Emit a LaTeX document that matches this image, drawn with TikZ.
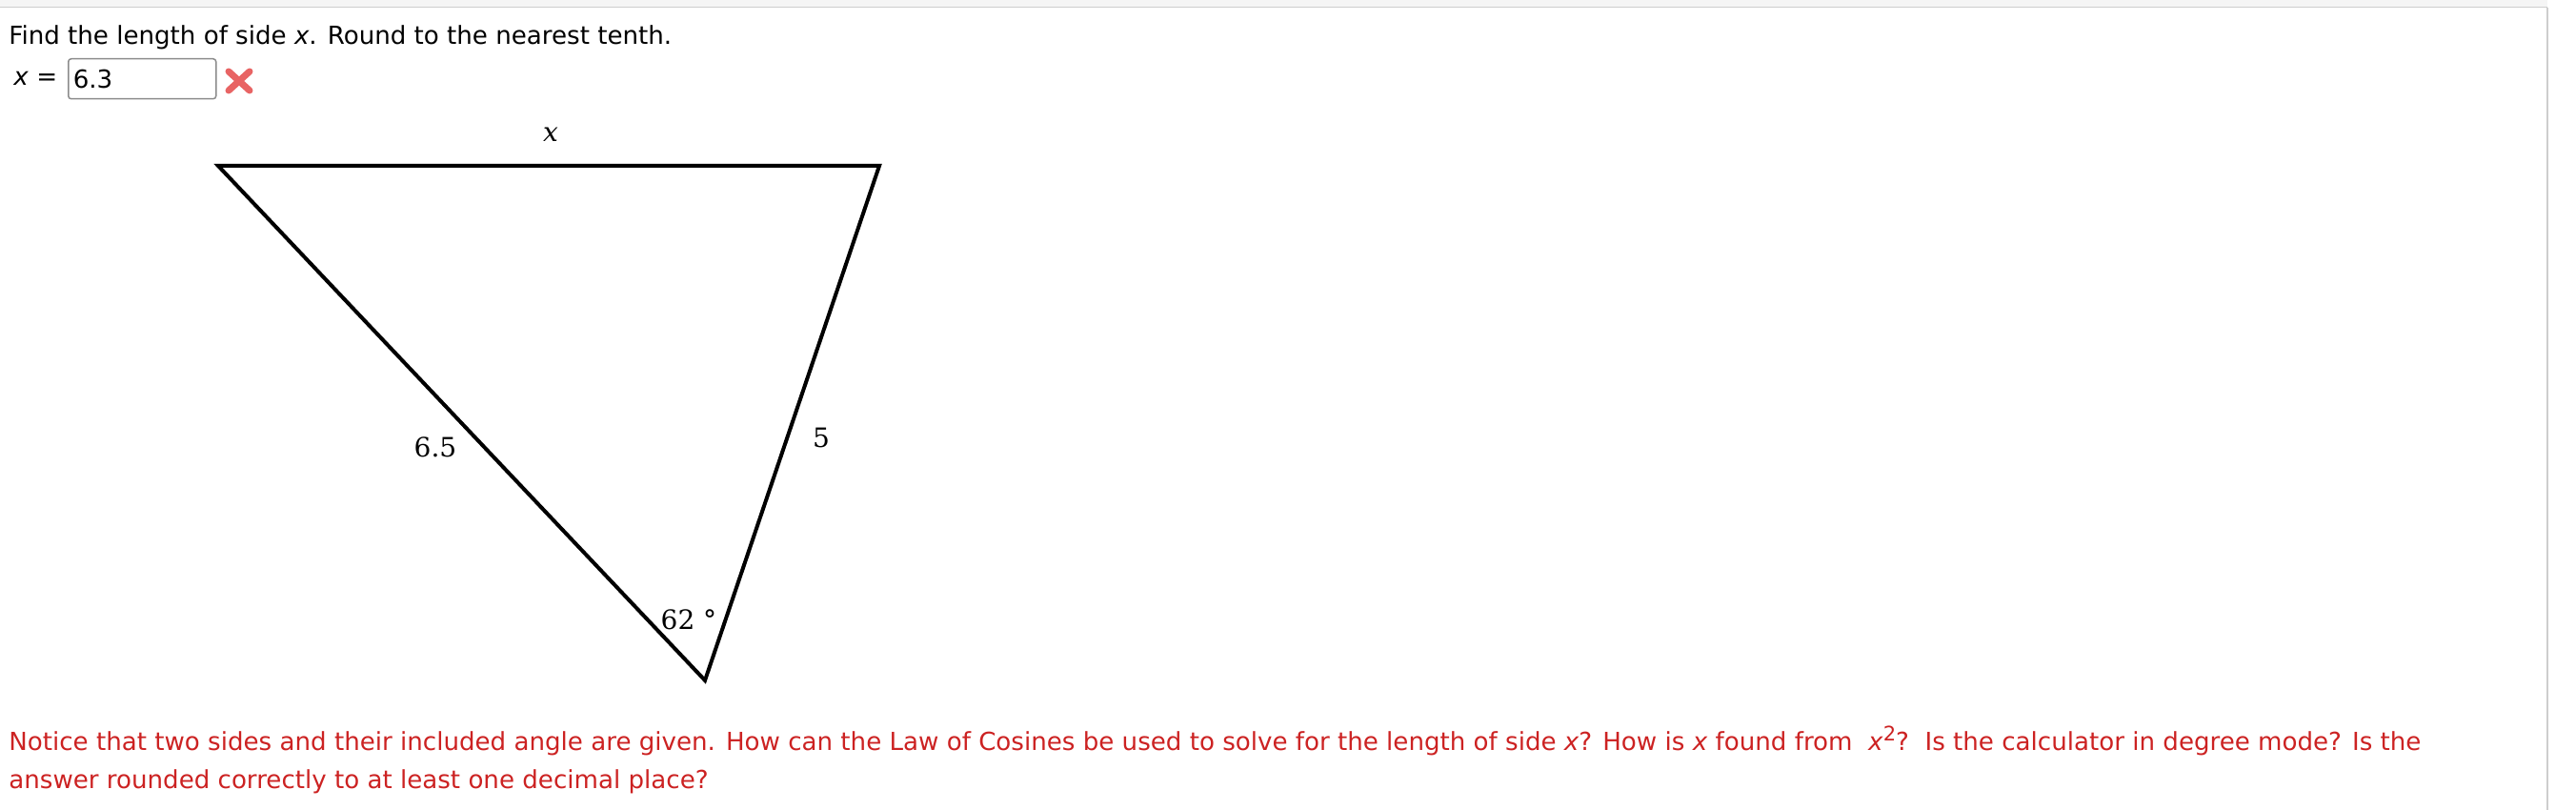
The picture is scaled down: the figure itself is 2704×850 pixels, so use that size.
\documentclass[tikz,border=0pt]{standalone}
\usepackage{fontspec}
\setmainfont{DejaVu Sans}
\newfontfamily\serifdv{DejaVu Serif}
\usetikzlibrary{positioning}
\definecolor{hintred}{RGB}{204,34,34}
\definecolor{crossred}{RGB}{232,100,100}
\definecolor{boxgray}{RGB}{140,140,140}
\definecolor{bargray}{RGB}{245,245,245}
\definecolor{edgegray}{RGB}{205,205,205}

\begin{document}
\begin{tikzpicture}[x=1pt,y=-1pt,thick]
	\tikzset{testo/.style={font=\fontsize{26.1}{30}\selectfont, inner sep=0pt},
		etich/.style={font=\serifdv\fontsize{28}{32}\selectfont, inner sep=0pt},
		lato/.style={line width=4pt, line join=miter}}
	\useasboundingbox (0,0) rectangle (2704,850);
	% barra in alto e bordo
	\fill[bargray] (0,0) rectangle (2674,7);
	\draw[edgegray, line width=1.5pt] (0,7.5) -- (2674,7.5);
	\draw[edgegray, line width=2pt] (2674,8) -- (2674,850);
	% domanda
	\node[testo, anchor=base west] (domanda) at (9,47) {Find the length of side \textit{x}. Round to the nearest tenth.};
	\node[testo, anchor=base west] (xuguale) at (14,90) {\textit{x} =};
	\node[testo, draw=boxgray, line width=1.5pt, rounded corners=3pt, anchor=north west,
		text width=145pt, inner xsep=5pt, minimum height=42pt, align=left] (casella) at (71,61) {6.3};
	\begin{scope}[shift={(251,85)}, crossred, line width=7pt, line cap=round]
		\draw (-11,-10) -- (11,10);
		\draw (-11,10) -- (11,-10);
	\end{scope}
	% triangolo
	\coordinate (A) at (229,174);
	\coordinate (B) at (923,174);
	\coordinate (C) at (740,714);
	\draw[lato] (A) -- (B) -- (C) -- cycle;
	\node[etich] (latox) at (578,141) {\itshape x};
	\node[etich] (lato65) at (457,469) {6.5};
	\node[etich] (lato5) at (862,459) {5};
	\node[etich] (angolo) at (723,650) {62 °};
	% suggerimento
	\node[testo, hintred, anchor=base west] (nota1) at (9,787) {Notice that two sides and their included angle are given. How can the Law of Cosines be used to solve for the length of side \textit{x}? How is \textit{x} found from \ \textit{x}\raisebox{10pt}{\fontsize{21}{21}\selectfont 2}?\ \ Is the calculator in degree mode? Is the};
	\node[testo, hintred, anchor=base west] (nota2) at (9,827) {answer rounded correctly to at least one decimal place?};
\end{tikzpicture}
\end{document}
